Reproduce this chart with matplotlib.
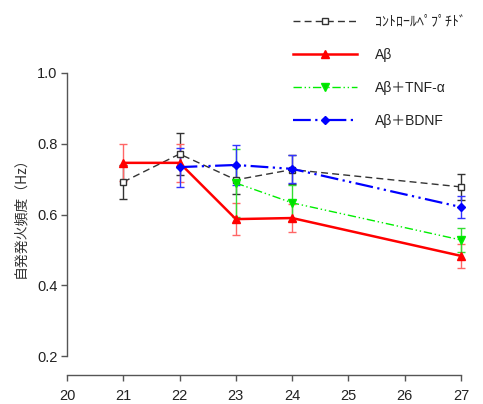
import matplotlib
matplotlib.use("Agg")
import matplotlib.pyplot as plt

plt.rcParams['font.family'] = ['Liberation Sans', 'Noto Sans CJK JP', 'DejaVu Sans']

ctrl_x = [21, 22, 23, 24, 27]
ctrl_y = [0.692, 0.771, 0.698, 0.727, 0.678]
ctrl_e = [0.048, 0.060, 0.040, 0.040, 0.037]

ab_x = [21, 22, 23, 24, 27]
ab_y = [0.746, 0.746, 0.587, 0.590, 0.483]
ab_e = [0.052, 0.054, 0.045, 0.040, 0.035]

tnf_x = [23, 24, 27]
tnf_y = [0.689, 0.633, 0.528]
tnf_e = [0.097, 0.050, 0.034]

bdnf_x = [22, 23, 24, 27]
bdnf_y = [0.734, 0.740, 0.729, 0.621]
bdnf_e = [0.055, 0.057, 0.040, 0.030]

labels = ['ｺﾝﾄﾛｰﾙﾍﾟﾌﾟﾁﾄﾞ', 'Aβ', 'Aβ＋TNF-α', 'Aβ＋BDNF']
xticks = [20, 21, 22, 23, 24, 25, 26, 27]
yticks = [0.2, 0.4, 0.6, 0.8, 1.0]

W, H = 483, 404
fig = plt.figure(figsize=(W / 100, H / 100), dpi=100)
ax = fig.add_axes([67 / W, 1 - 356 / H, (461 - 67) / W, (356 - 73) / H])

series = [
    (ctrl_x, ctrl_y, ctrl_e, '#333333', (0, (5, 3)), 's', 'white', 1.0, 5, '#333333'),
    (ab_x, ab_y, ab_e, '#ff0000', '-', '^', '#ff0000', 1.8, 6, '#ff6666'),
    (tnf_x, tnf_y, tnf_e, '#00ee00', (0, (6, 2, 1, 2, 1, 2)), 'v', '#00dd00', 1.0, 6, '#33dd33'),
    (bdnf_x, bdnf_y, bdnf_e, '#0000ff', (0, (8, 2, 1, 2, 1, 2)), 'D', '#0000ff', 1.6, 4.5, '#3333ff'),
]

handles = []
for (x, y, e, c, ls, m, mfc, lw, ms, ec), lab in zip(series, labels):
    ax.errorbar(x, y, yerr=e, fmt='none', ecolor=ec, elinewidth=1.0,
                capsize=3, capthick=1.0, clip_on=False, zorder=2)
    h, = ax.plot(x, y, color=c, linestyle=ls, linewidth=lw, marker=m,
                 markersize=ms, markerfacecolor=mfc, markeredgecolor=c,
                 markeredgewidth=1.0, clip_on=False, zorder=3, label=lab)
    handles.append(h)

ax.set_xlim(20, 27)
ax.set_ylim(0.2, 1.0)
ax.set_xticks(xticks)
ax.set_yticks(yticks)
ax.set_yticklabels([f'{v:.1f}' for v in yticks])

for s in ['top', 'right']:
    ax.spines[s].set_visible(False)
ax.spines['bottom'].set_position(('outward', 14))
for s in ['left', 'bottom']:
    ax.spines[s].set_color('#555555')
    ax.spines[s].set_linewidth(1.0)
ax.tick_params(axis='both', direction='out', length=4, width=1.0,
               color='#555555', labelsize=10.5, labelcolor='#222222')
ax.tick_params(axis='x', pad=6)
ax.tick_params(axis='y', pad=3)

ax.set_ylabel('自発発火頻度（Hz）', fontsize=10, color='#333333',
              family=['Noto Sans CJK JP', 'DejaVu Sans'], labelpad=7)

leg = fig.legend(handles=handles, labels=labels, loc='upper left',
                 bbox_to_anchor=(283 / W, 1 - 5 / H), frameon=False,
                 handlelength=4.6, handletextpad=1.3,
                 labelspacing=1.38, borderpad=0.2, markerscale=0.85,
                 prop={'family': ['Liberation Sans', 'Noto Sans CJK JP', 'DejaVu Sans'], 'size': 10})
for t in leg.get_texts():
    t.set_color('#222222')

fig.savefig('out.png', dpi=100)
